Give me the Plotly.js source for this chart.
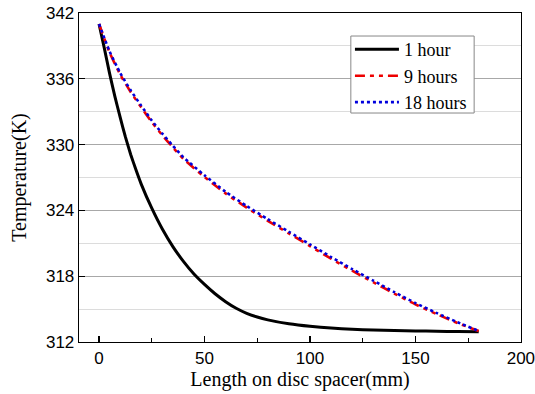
<!DOCTYPE html>
<html>
<head>
<meta charset="utf-8">
<script src="https://cdn.plot.ly/plotly-3.0.1.min.js"></script>
<style>html,body{margin:0;padding:0;background:#fff;}#chart{width:535px;height:394px;}</style>
</head>
<body>
<div id="chart"></div>
<script>
// 1 hour
const x1h = [0,2.5,5,7.5,10,12.5,15,17.5,20,25,30,35,40,45,50,55,60,65,70,75,80,90,100,110,120,130,140,150,160,170,180];
const t1h = [341.0,338.8,336.5,334.4,332.5,330.7,329.1,327.7,326.4,324.2,322.3,320.7,319.35,318.2,317.25,316.4,315.68,315.08,314.62,314.28,314.02,313.66,313.43,313.27,313.16,313.09,313.04,313.01,312.98,312.95,312.93];
// 9 hours and 18 hours
const xLong = [0,5,10,15,20,25,30,35,40,50,60,70,80,90,100,110,120,130,140,150,160,170,180];
const t9h  = [341.0,338.4,336.4,334.8,333.4,332.05,330.85,329.75,328.7,327.05,325.55,324.25,323.05,321.9,320.75,319.6,318.5,317.45,316.42,315.43,314.55,313.73,313.0];
const t18h = [341.0,338.5,336.55,334.95,333.55,332.2,331.0,329.9,328.85,327.2,325.7,324.4,323.2,322.05,320.9,319.75,318.65,317.6,316.55,315.55,314.65,313.8,313.0];
const seriesNames = ["1 hour","9 hours","18 hours"];
const xTicks = [0,50,100,150,200];
const yTicks = [312,318,324,330,336,342];

const traces = [
  {x:x1h, y:t1h, name:seriesNames[0], mode:"lines", line:{color:"#000000", width:3, shape:"spline", smoothing:0.4}},
  {x:xLong, y:t9h, name:seriesNames[1], mode:"lines", line:{color:"#ee0000", width:2.6, dash:"10px,5px,4px,5px,4px,5px", shape:"spline", smoothing:0.6}},
  {x:xLong, y:t18h, name:seriesNames[2], mode:"lines", line:{color:"#0000dd", width:2.6, dash:"dot", shape:"spline", smoothing:0.6}}
];

const layout = {
  width:535, height:394,
  margin:{l:79, r:14, t:13, b:52},
  paper_bgcolor:"#ffffff", plot_bgcolor:"#ffffff",
  showlegend:true,
  legend:{x:0.613, y:0.945, xanchor:"left", yanchor:"top", bgcolor:"rgba(0,0,0,0)", borderwidth:0,
          font:{family:"Liberation Serif, Times New Roman, serif", size:18, color:"#000"}, itemwidth:44, tracegroupgap:0},
  shapes:[{type:"rect", xref:"paper", yref:"paper", x0:0.615, x1:0.894, y0:0.696, y1:0.930,
           line:{color:"#888888", width:1}, fillcolor:"#ffffff", layer:"above"}],
  xaxis:{
    range:[-9.5,200.05], tickmode:"array", tickvals:xTicks, ticktext:xTicks.map(String),
    ticklabeloverflow:"allow",
    ticks:"inside", ticklen:6, tickwidth:1.3, tickcolor:"#000",
    minor:{dtick:25, tick0:0, ticks:"inside", ticklen:4, tickwidth:1.2, tickcolor:"#000", showgrid:false},
    showline:true, linecolor:"#000", linewidth:1.3, mirror:true, showgrid:false, zeroline:false,
    tickfont:{family:"Liberation Sans, Arial, sans-serif", size:17, color:"#000"},
    automargin:"bottom",
    title:{text:"Length on disc spacer(mm)", font:{family:"Liberation Serif, Times New Roman, serif", size:20, color:"#000"}, standoff:0}
  },
  yaxis:{
    range:[312,342], tickmode:"array", tickvals:yTicks, ticktext:yTicks.map(String),
    ticks:"inside", ticklen:6, tickwidth:1.3, tickcolor:"#000",
    showline:true, linecolor:"#000", linewidth:1.3, mirror:true,
    showgrid:true, gridcolor:"#a8a8a8", gridwidth:1.3, zeroline:false,
    minor:{dtick:3, tick0:312, showgrid:true, gridcolor:"#dcdcdc", gridwidth:1, ticks:""},
    tickfont:{family:"Liberation Sans, Arial, sans-serif", size:17, color:"#000"},
    title:{text:"Temperature(K)", font:{family:"Liberation Serif, Times New Roman, serif", size:20, color:"#000"}, standoff:14}
  }
};
Plotly.newPlot("chart", traces, layout, {displayModeBar:false, staticPlot:true});
</script>
</body>
</html>
